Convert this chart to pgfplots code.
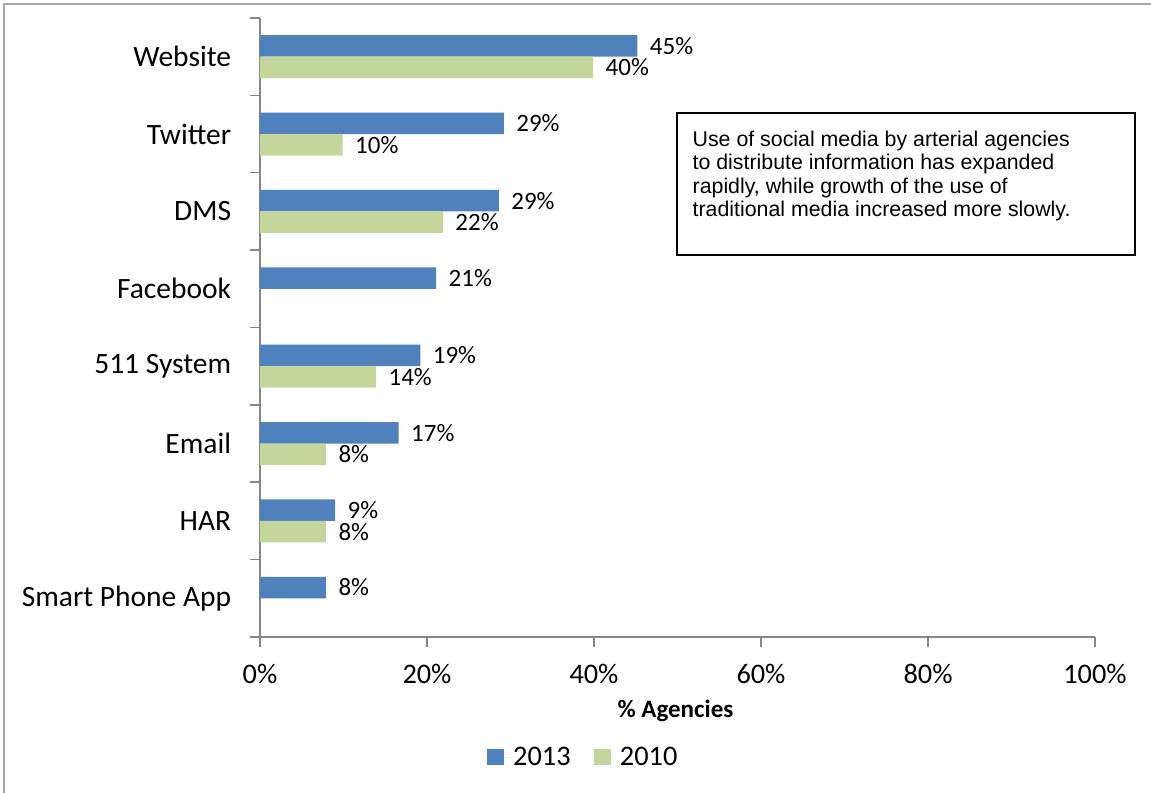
\documentclass[border=0pt]{standalone}
\usepackage{fontspec}
\setmainfont{Carlito}
\newfontfamily\arialfont{Liberation Sans}
\usepackage{pgfplots}
\pgfplotsset{compat=1.18}
\definecolor{bblue}{HTML}{4F81BD}
\definecolor{bgreen}{HTML}{C3D69B}
\definecolor{axgray}{HTML}{868686}
\definecolor{framegray}{HTML}{A6A6A6}
\begin{document}
\begin{tikzpicture}
\path[use as bounding box] (0,0) rectangle (690.6pt,475.8pt);
\draw[framegray, line width=1.2pt] (2.4pt,-1pt) -- (2.4pt,473.4pt) -- (691pt,473.4pt);
\begin{axis}[
  at={(156pt,93.6pt)}, anchor=south west,
  scale only axis, width=501pt, height=371.4pt,
  xbar, bar width=12.9pt,
  xmin=0, xmax=100, ymin=-0.5, ymax=7.5,
  axis lines*=left,
  axis line style={draw=axgray, line width=0.9pt},
  tick style={draw=axgray, line width=0.9pt},
  tick align=outside,
  major tick length=6pt,
  xtick={0,20,...,100},
  /pgf/number format/assume math mode=true,
  xticklabel={\pgfmathprintnumber{\tick}\%},
  xticklabel style={font=\fontsize{17}{20}\selectfont, yshift=-7pt},
  ytick={-0.5,0.5,...,7.5},
  yticklabels={},
  extra y ticks={0,1,...,7},
  extra y tick labels={Smart Phone App,HAR,Email,511 System,Facebook,DMS,Twitter,Website},
  extra y tick style={major tick length=0pt, yticklabel style={font=\fontsize{17.7}{20}\selectfont, anchor=east, xshift=-13.8pt}},
  xlabel={\textbf{\% Agencies}},
  xlabel style={at={(axis description cs:0.4975,0)}, anchor=base, yshift=-48.4pt, font=\fontsize{15}{18}\selectfont},
  legend style={at={(axis description cs:0.388,-0.194)}, anchor=center, draw=none, legend columns=2, font=\fontsize{17}{20}\selectfont, /tikz/every even column/.append style={column sep=12pt}},
  legend image code/.code={\fill (0pt,-5pt) rectangle (10pt,5pt); \path (0pt,0pt) -- (13.6pt,0pt);},
  point meta=explicit,
  nodes near coords={\pgfmathprintnumber{\pgfplotspointmeta}\%},
  nodes near coords style={font=\fontsize{15}{17}\selectfont, anchor=west, xshift=4pt, text=black},
  clip=false,
]
\addplot[fill=bblue, draw=none, bar shift=6.45pt] coordinates {
  (45.2,7) [45] (29.2,6) [29] (28.6,5) [29] (21.1,4) [21]
  (19.2,3) [19] (16.6,2) [17] (9.0,1) [9] (7.9,0) [8]
};
\addlegendentry{2013}
\addplot[fill=bgreen, draw=none, bar shift=-6.45pt] coordinates {
  (39.9,7) [40] (9.9,6) [10] (21.9,5) [22]
  (13.9,3) [14] (7.9,2) [8] (7.9,1) [8]
};
\addlegendentry{2010}
\end{axis}
\draw[black, line width=1.1pt] (406.4pt,322.8pt) rectangle (681pt,408pt);
\begin{scope}[every node/.style={anchor=base west, inner sep=0pt, font=\arialfont\fontsize{12.8}{14}\selectfont}]
\node at (415.4pt,387.8pt) {Use of social media by arterial agencies};
\node at (415.4pt,373.8pt) {to distribute information has expanded};
\node at (415.4pt,359.6pt) {rapidly, while growth of the use of};
\node at (415.4pt,345.8pt) {traditional media increased more slowly.};
\end{scope}
\end{tikzpicture}
\end{document}
